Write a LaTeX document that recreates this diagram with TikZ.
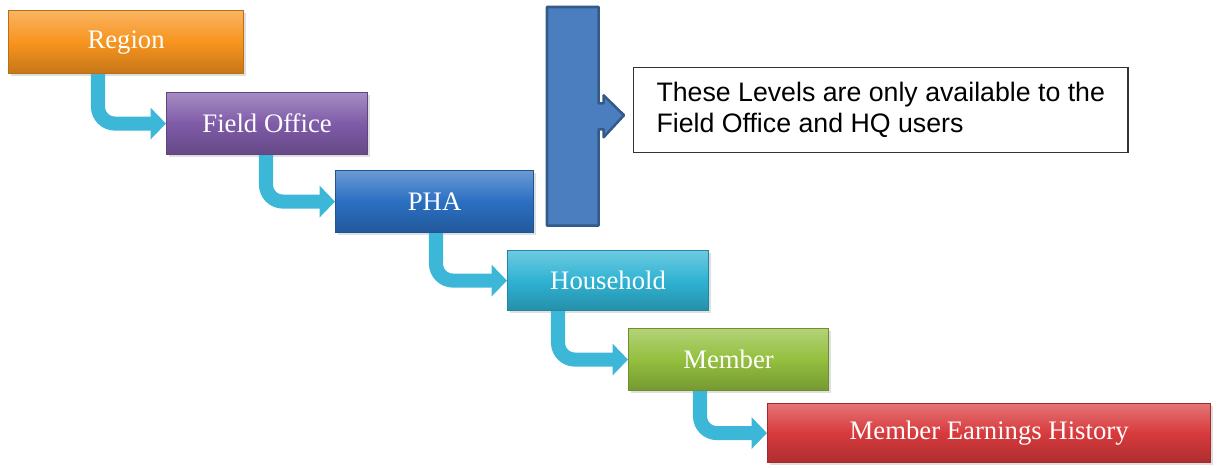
\documentclass[tikz,border=0pt]{standalone}
\usepackage{fontspec}
\setmainfont{Liberation Serif}
\setsansfont{Liberation Sans}
\usepackage{tikz}
\usetikzlibrary{arrows.meta,calc,shadows}
\definecolor{regionC}{HTML}{F7941E}
\definecolor{fieldC}{HTML}{7F5BA8}
\definecolor{phaC}{HTML}{2B6FC2}
\definecolor{householdC}{HTML}{2FB3D3}
\definecolor{memberC}{HTML}{93BF3E}
\definecolor{earningsC}{HTML}{D83A3C}
\definecolor{flowC}{HTML}{3DB7D7}
\definecolor{panelC}{HTML}{4A7EBF}
\definecolor{panelD}{HTML}{345A8A}
\tikzset{
  level/.style={rectangle, anchor=north west, inner sep=0pt,
    draw=#1!75!black, line width=0.8pt,
    top color=#1!70!white, bottom color=#1!80!black, middle color=#1,
    drop shadow={opacity=0.25, shadow xshift=1.5pt, shadow yshift=-1.5pt},
    text=white, font=\fontsize{19}{22}\selectfont},
  flow/.style={draw=flowC, line width=10pt, rounded corners=12pt,
    -{Triangle[length=11pt, width=22pt]}},
  note/.style={rectangle, anchor=north west, draw=black!80, line width=1pt,
    align=left, font=\sffamily\fontsize{19}{22}\selectfont}
}

\begin{document}
\begin{tikzpicture}[x=0.025cm, y=-0.025cm]
    \useasboundingbox (0,0) rectangle (1220,468);
    % Levels
    \node[level=regionC, minimum width=5.875cm, minimum height=1.575cm] (region) at (8,10) {Region};
    \node[level=fieldC, minimum width=5.025cm, minimum height=1.55cm] (field) at (166,92) {Field Office};
    \node[level=phaC, minimum width=4.95cm, minimum height=1.55cm] (pha) at (335,170) {PHA};
    \node[level=householdC, minimum width=5.025cm, minimum height=1.5cm] (household) at (507,250) {Household};
    \node[level=memberC, minimum width=5cm, minimum height=1.55cm] (member) at (628,328) {Member};
    \node[level=earningsC, minimum width=11.075cm, minimum height=1.475cm] (earnings) at (767,403) {Member Earnings History};
    % Level to level
    \draw[flow] ($(region.south west)+(90,0)$) |- (field.west);
    \draw[flow] ($(field.south west)+(100,0)$) |- (pha.west);
    \draw[flow] ($(pha.south west)+(101,0)$) |- (household.west);
    \draw[flow] ($(household.south west)+(51,0)$) |- (member.west);
    \draw[flow] ($(member.south west)+(72,0)$) |- (earnings.west);
    % Bracket over the upper levels
    \node[anchor=north west, inner sep=0pt, minimum width=1.275cm, minimum height=5.45cm] (levels) at (547,7) {};
    \node[note, minimum width=12.35cm, minimum height=2.125cm] (note) at (633,67)
       {These Levels are only available to the\\Field Office and HQ users};
    \draw[fill=panelC, draw=panelD, line width=1.8pt, line join=round]
       (levels.north west) -- (levels.north east) -- ($(levels.east)+(0,-13)$)
       -- ++(5,0) -- ++(0,-8) -- ($(note.west)+(-9,5)$)
       -- ($(levels.east)+(5,21)$) -- ++(0,-8) -- ($(levels.east)+(0,13)$)
       -- (levels.south east) -- (levels.south west) -- cycle;
\end{tikzpicture}
\end{document}
